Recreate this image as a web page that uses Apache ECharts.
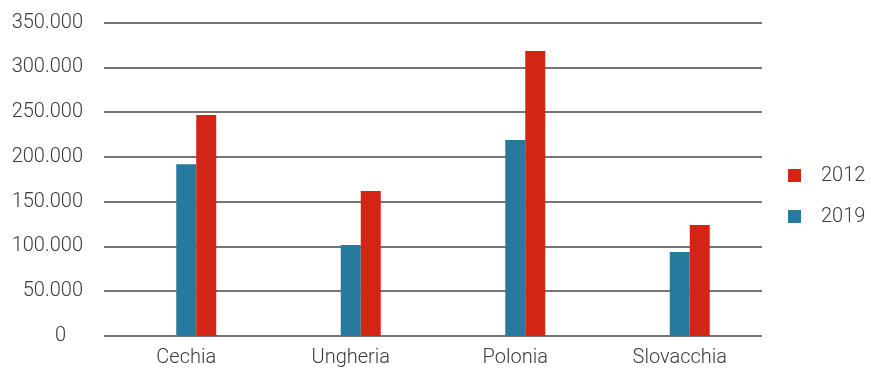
<!DOCTYPE html>
<html>
<head>
<meta charset="utf-8">
<script src="https://cdn.jsdelivr.net/npm/echarts@6/dist/echarts.min.js"></script>
<style>
  html, body { margin: 0; padding: 0; background: #fff; }
  #chart { width: 871px; height: 370px; }
</style>
</head>
<body>
<div id="chart"></div>
<script>
// Paesi e valori per anno
const categories = ['Cechia', 'Ungheria', 'Polonia', 'Slovacchia'];
const values2019 = [192000, 101700, 218900, 93800];
const values2012 = [246900, 162000, 318400, 124000];
const yTicks = { min: 0, max: 350000, interval: 50000 };

const FONT = 'Roboto, "Liberation Sans", sans-serif';
const TEXT_COLOR = '#3a3a3a';
const TEAL = '#277a9e';
const RED = '#d22516';

function fmt(v) {
  return String(v).replace(/\B(?=(\d{3})+(?!\d))/g, '.');
}

const chart = echarts.init(document.getElementById('chart'), null, { renderer: 'canvas' });

chart.setOption({
  animation: false,
  backgroundColor: '#fff',
  grid: { left: 104, right: 109, top: 22.7, bottom: 34, containLabel: false },
  legend: {
    orient: 'vertical',
    left: 783,
    top: 160.5,
    data: ['2012', '2019'],
    icon: 'rect',
    itemWidth: 13,
    itemHeight: 13,
    itemGap: 21,
    textStyle: {
      fontFamily: FONT, fontWeight: 300, fontSize: 20, color: TEXT_COLOR,
      lineHeight: 20, padding: [0, 0, 0, 15]
    }
  },
  xAxis: {
    type: 'category',
    data: categories,
    axisLine: { show: false },
    axisTick: { show: false },
    axisLabel: {
      margin: 12,
      fontFamily: FONT, fontWeight: 300, fontSize: 20, color: TEXT_COLOR
    }
  },
  yAxis: {
    type: 'value',
    min: yTicks.min,
    max: yTicks.max,
    interval: yTicks.interval,
    axisLine: { show: false },
    axisTick: { show: false },
    splitLine: { lineStyle: { color: '#474747', width: 1.6 } },
    axisLabel: {
      margin: 21,
      fontFamily: FONT, fontWeight: 300, fontSize: 20, color: TEXT_COLOR,
      formatter: v => v === 0 ? '{z|0}' : fmt(v),
      rich: { z: { fontFamily: FONT, fontWeight: 300, fontSize: 20, color: TEXT_COLOR, padding: [0, 17, 0, 0] } }
    }
  },
  series: [
    // empty slot keeps the pair shifted to the right of the category centre
    { name: '', type: 'bar', data: [], barWidth: 20, barGap: '0%' },
    { name: '2019', type: 'bar', data: values2019, barWidth: 20, barGap: '0%', itemStyle: { color: TEAL } },
    { name: '2012', type: 'bar', data: values2012, barWidth: 20, barGap: '0%', itemStyle: { color: RED } }
  ]
});
</script>
</body>
</html>
